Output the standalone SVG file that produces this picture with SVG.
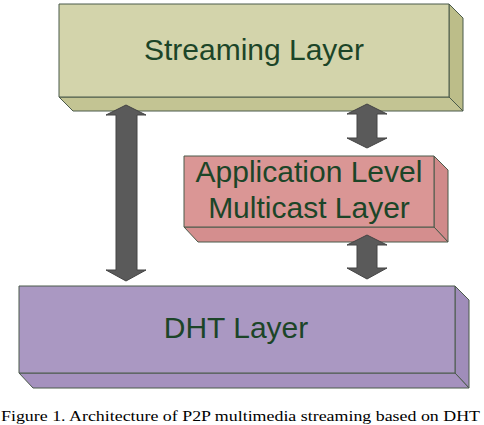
<svg xmlns="http://www.w3.org/2000/svg" width="484" height="425" viewBox="0 0 484 425">
<style>
.edge{stroke:#4a5a4a;stroke-width:1;stroke-linejoin:round}
.lbl{font-family:"Liberation Sans",Arial,sans-serif;font-size:30px;fill:#1c4528;text-anchor:middle}
.arrow{fill:#5a5a5a;stroke:#444;stroke-width:1;stroke-linejoin:miter}
.cap{font-family:"Liberation Serif","Times New Roman",serif;font-size:15.5px;fill:#000}
</style>
<rect width="484" height="425" fill="#fff"/>
<g id="streaming">
<polygon class="edge" points="449,4 463,18 463,111 449,97" fill="#bcbd89"/>
<polygon class="edge" points="59,97 449,97 463,111 73,111" fill="#c3c493"/>
<rect class="edge" x="59" y="4" width="390" height="93" fill="#d3d4ab"/>
<text class="lbl" x="254" y="60">Streaming Layer</text>
</g>
<g id="alm">
<polygon class="edge" points="434,156 448,170 448,242 434,227" fill="#d08a8a"/>
<polygon class="edge" points="184,227 434,227 448,242 198,242" fill="#d48e8e"/>
<rect class="edge" x="184" y="156" width="250" height="71" fill="#da9695"/>
<text class="lbl" x="309" y="182">Application Level</text>
<text class="lbl" x="309" y="218">Multicast Layer</text>
</g>
<g id="dht">
<polygon class="edge" points="455,286 469,300 469,388 455,373" fill="#a08dba"/>
<polygon class="edge" points="19,373 455,373 469,388 33,388" fill="#a591be"/>
<rect class="edge" x="19" y="286" width="436" height="87" fill="#aa98c2"/>
<text class="lbl" x="236" y="338">DHT Layer</text>
</g>
<g id="connectors">
<polygon class="arrow" points="126,105 146,115 137,115 137,270 146,270 126,281 106,270 116,270 116,115 106,115"/>
<polygon class="arrow" points="367,104 387,114 377,114 377,138 387,138 367,148 347,138 357,138 357,114 347,114"/>
<polygon class="arrow" points="367,235 387,245 377,245 377,268 387,268 367,279 347,268 357,268 357,245 347,245"/>
</g>
<text class="cap" x="1" y="421" textLength="479" lengthAdjust="spacingAndGlyphs">Figure 1. Architecture of P2P multimedia streaming based on DHT</text>
</svg>
